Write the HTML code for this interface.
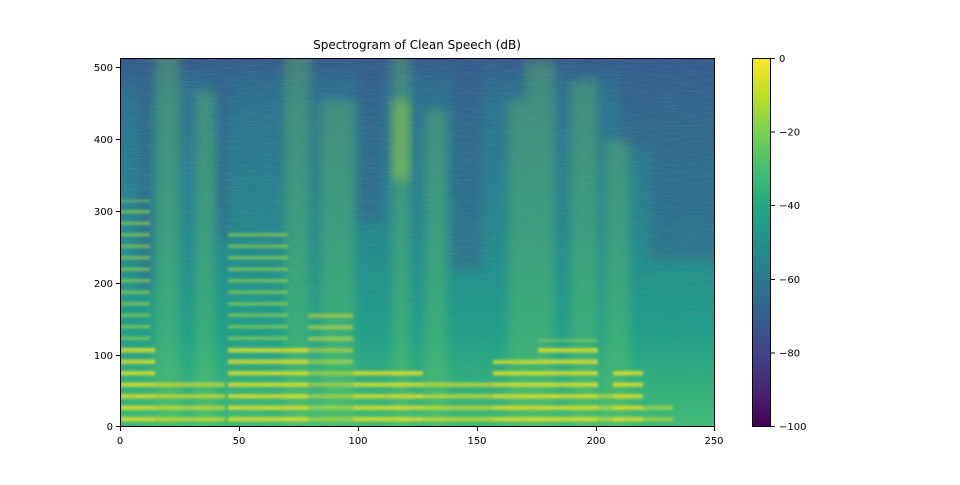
<!DOCTYPE html>
<html><head><style>
body{margin:0;background:#fff;}
text{font-family:"DejaVu Sans","Liberation Sans",sans-serif;font-size:10px;fill:#000;}
</style></head><body>
<svg width="960" height="480" xmlns="http://www.w3.org/2000/svg">
<defs>
<linearGradient id="bg" x1="0" y1="0" x2="0" y2="1">
<stop offset="0" stop-color="#33638d"/>
<stop offset="0.15" stop-color="#2c758e"/>
<stop offset="0.45" stop-color="#26878e"/>
<stop offset="0.75" stop-color="#21a087"/>
<stop offset="1" stop-color="#3fbc73"/>
</linearGradient>
<linearGradient id="cb" x1="0" y1="1" x2="0" y2="0">
<stop offset="0" stop-color="#440154"/><stop offset="0.1" stop-color="#482475"/>
<stop offset="0.2" stop-color="#414487"/><stop offset="0.3" stop-color="#355f8d"/>
<stop offset="0.4" stop-color="#2a788e"/><stop offset="0.5" stop-color="#21918c"/>
<stop offset="0.6" stop-color="#22a884"/><stop offset="0.7" stop-color="#44bf70"/>
<stop offset="0.8" stop-color="#7ad151"/><stop offset="0.9" stop-color="#bddf26"/>
<stop offset="1" stop-color="#fde725"/>
</linearGradient>
<pattern id="harm" x="0" y="0" width="10" height="11.5" patternUnits="userSpaceOnUse">
<rect x="0" y="3" width="10" height="4.5" fill="#e8e41f"/>
</pattern>
<pattern id="harm2" x="0" y="0" width="10" height="11.5" patternUnits="userSpaceOnUse">
<rect x="0" y="3" width="10" height="3.5" fill="#9bd93c"/>
</pattern>
<filter id="b4" x="-20%" y="-20%" width="140%" height="140%"><feGaussianBlur stdDeviation="5"/></filter>
<filter id="b1"><feGaussianBlur stdDeviation="1.2"/></filter>
<filter id="noise" x="0" y="0" width="100%" height="100%">
<feTurbulence type="fractalNoise" baseFrequency="0.05 0.6" numOctaves="2" seed="3"/>
<feColorMatrix type="matrix" values="0 0 0 0 0.2  0 0 0 0 0.3  0 0 0 0 0.5  0 0 0 1.2 -0.5"/>
</filter>
<clipPath id="ax"><rect x="120" y="58" width="595" height="369"/></clipPath>
</defs>
<g clip-path="url(#ax)">
<rect x="120" y="58" width="595" height="369" fill="url(#bg)"/>
<g fill="#3b528b" opacity="0.4" filter="url(#b4)">
<rect x="140" y="40" width="12" height="250"/>
<rect x="218" y="40" width="10" height="200"/>
<rect x="358" y="40" width="25" height="180"/>
<rect x="452" y="40" width="30" height="230"/>
<rect x="650" y="40" width="70" height="220"/>
<rect x="620" y="40" width="30" height="110"/>
<rect x="110" y="40" width="620" height="30"/>
</g>
<g fill="#6ccd5a" opacity="0.32" filter="url(#b4)">
<rect x="155" y="40" width="25" height="400"/>
<rect x="195" y="90" width="20" height="350"/>
<rect x="285" y="40" width="25" height="400"/>
<rect x="320" y="100" width="35" height="340"/>
<rect x="392" y="40" width="18" height="400"/>
<rect x="425" y="110" width="22" height="330"/>
<rect x="508" y="100" width="22" height="340"/>
<rect x="525" y="60" width="30" height="380"/>
<rect x="570" y="80" width="28" height="360"/>
<rect x="605" y="140" width="25" height="300"/>
</g>
<rect x="392" y="100" width="18" height="80" fill="#bddf26" opacity="0.35" filter="url(#b4)"/>
<g filter="url(#b1)">
<rect x="120" y="200" width="30" height="150" fill="url(#harm2)" opacity="0.6"/>
<rect x="228" y="230" width="60" height="115" fill="url(#harm2)" opacity="0.6"/>
<g fill="url(#harm)" opacity="0.8">
<rect x="120" y="345" width="35" height="82"/>
<rect x="155" y="380" width="70" height="47" opacity="0.8"/>
<rect x="228" y="345" width="80" height="82"/>
<rect x="308" y="310" width="45" height="117" opacity="0.6"/>
<rect x="353" y="365" width="70" height="62"/>
<rect x="423" y="380" width="70" height="47" opacity="0.8"/>
<rect x="493" y="360" width="45" height="67"/>
<rect x="538" y="340" width="60" height="87"/>
<rect x="598" y="390" width="15" height="37" opacity="0.7"/>
<rect x="613" y="370" width="30" height="57"/>
<rect x="643" y="400" width="30" height="27" opacity="0.6"/>
</g>
</g>
<rect x="120" y="58" width="595" height="369" filter="url(#noise)" opacity="0.3"/>
</g>
<rect x="120.5" y="58.5" width="594" height="368" fill="none" stroke="#000" stroke-width="1"/>
<text x="417" y="49" text-anchor="middle" style="font-size:12px">Spectrogram of Clean Speech (dB)</text>
<g stroke="#000">
<line x1="120.5" y1="427" x2="120.5" y2="431"/><line x1="239.5" y1="427" x2="239.5" y2="431"/>
<line x1="358.5" y1="427" x2="358.5" y2="431"/><line x1="477.5" y1="427" x2="477.5" y2="431"/>
<line x1="596.5" y1="427" x2="596.5" y2="431"/><line x1="714.5" y1="427" x2="714.5" y2="431"/>
<line x1="116" y1="426.5" x2="120" y2="426.5"/><line x1="116" y1="355.5" x2="120" y2="355.5"/>
<line x1="116" y1="283.5" x2="120" y2="283.5"/><line x1="116" y1="211.5" x2="120" y2="211.5"/>
<line x1="116" y1="139.5" x2="120" y2="139.5"/><line x1="116" y1="67.5" x2="120" y2="67.5"/>
</g>
<g text-anchor="middle">
<text x="120" y="444">0</text><text x="239" y="444">50</text><text x="358" y="444">100</text>
<text x="477" y="444">150</text><text x="596" y="444">200</text><text x="714" y="444">250</text>
</g>
<g text-anchor="end">
<text x="113" y="430">0</text><text x="113" y="359">100</text><text x="113" y="287">200</text>
<text x="113" y="215">300</text><text x="113" y="143">400</text><text x="113" y="71">500</text>
</g>
<rect x="752" y="58" width="19" height="369" fill="url(#cb)"/>
<rect x="752.5" y="58.5" width="18" height="368" fill="none" stroke="#000"/>
<g stroke="#000">
<line x1="771" y1="58.5" x2="775" y2="58.5"/><line x1="771" y1="132" x2="775" y2="132"/>
<line x1="771" y1="205.5" x2="775" y2="205.5"/><line x1="771" y1="279.5" x2="775" y2="279.5"/>
<line x1="771" y1="353" x2="775" y2="353"/><line x1="771" y1="426.5" x2="775" y2="426.5"/>
</g>
<g>
<text x="779" y="62">0</text><text x="779" y="135.5">−20</text><text x="779" y="209">−40</text>
<text x="779" y="283">−60</text><text x="779" y="356.5">−80</text><text x="779" y="430">−100</text>
</g>
</svg>
</body></html>
